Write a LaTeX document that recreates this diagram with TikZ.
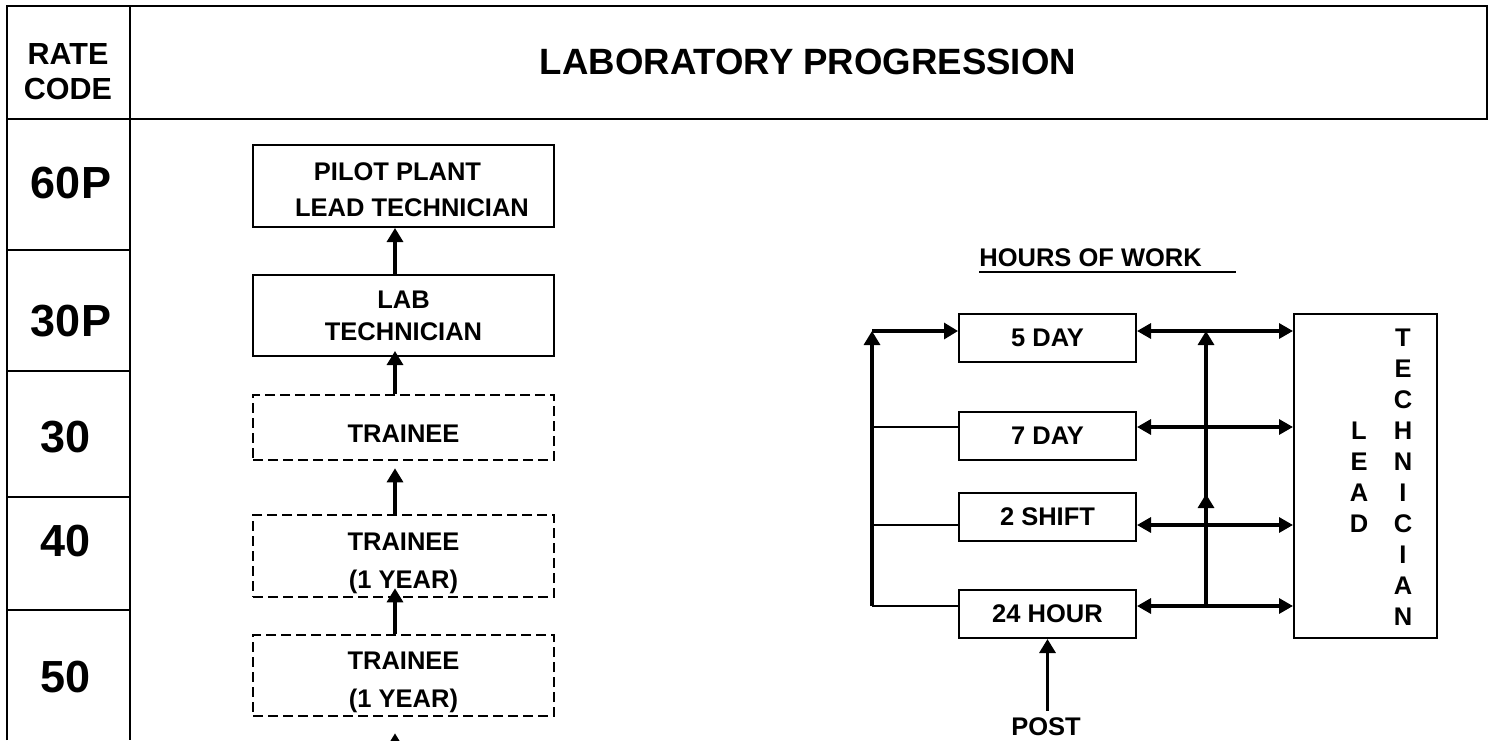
\documentclass[tikz,border=0pt]{standalone}
\usepackage{fontspec}
\setmainfont{Liberation Sans}
\usetikzlibrary{arrows.meta,calc}

\tikzset{
  tabline/.style={line width=1.1pt},
  box/.style={draw, line width=1pt, minimum width=150.5pt, inner sep=0pt, align=center,
    font=\fontsize{12.75}{18}\selectfont\bfseries},
  dbox/.style={box, line width=1.3pt, dash pattern=on 5pt off 2.5pt},
  hbox/.style={box, minimum width=88.5pt, minimum height=24pt},
  arr/.style={line width=1.6pt, -{Triangle[width=8pt,length=7pt]}},
  darr/.style={line width=1.6pt, {Triangle[width=7.5pt,length=7pt]}-{Triangle[width=7.5pt,length=7pt]}},
  link/.style={line width=1pt},
  rate/.style={font=\fontsize{22.5}{27}\selectfont\bfseries},
  letters/.style={align=center, inner sep=0pt, font=\fontsize{12.75}{15.5}\selectfont\bfseries},
}

\begin{document}
\begin{tikzpicture}[x=0.5pt, y=-0.5pt]
  \useasboundingbox (0,0) rectangle (1489,740);

  % table frame and rate codes
  \draw[tabline] (7,740) -- (7,6) -- (1487,6) -- (1487,119) -- (7,119);
  \draw[tabline] (130,6) -- (130,740);
  \foreach \y in {250,371,497,610}
    \draw[tabline] (7,\y) -- (130,\y);
  \node[align=center, font=\fontsize{15.25}{17.5}\selectfont\bfseries] (rc) at (68,71.5) {RATE\\CODE};
  \node[font=\fontsize{18.3}{22}\selectfont\bfseries] (title) at (808,62) {LABORATORY PROGRESSION};
  \node[rate] (c60p) at (71,183.5) {60P};
  \node[rate] (c30p) at (71,321) {30P};
  \node[rate] (c30) at (66,437) {30};
  \node[rate] (c40) at (66,541) {40};
  \node[rate] (c50) at (66,677) {50};

  % progression
  \coordinate (ax) at (395,0);
  \coordinate (low) at (395,770);
  \node[box, minimum height=41pt] (pp) at (403.5,186) {\rule{0pt}{13pt}PILOT PLANT\hspace*{6pt}\\\hspace*{8.5pt}LEAD TECHNICIAN};
  \node[box, minimum height=40.5pt, font=\fontsize{12.75}{16}\selectfont\bfseries] (lab) at (403.5,315.5) {LAB\\TECHNICIAN};
  \node[dbox, minimum height=32.5pt] (tr0) at (403.5,427.5) {\rule{0pt}{15pt}TRAINEE};
  \node[dbox, minimum height=41pt, font=\fontsize{12.75}{19}\selectfont\bfseries] (tr1) at (403.5,556) {\rule{0pt}{16pt}TRAINEE\\(1 YEAR)};
  \node[dbox, minimum height=40.5pt, font=\fontsize{12.75}{19}\selectfont\bfseries] (tr2) at (403.5,675.5) {\rule{0pt}{16pt}TRAINEE\\(1 YEAR)};
  \draw[arr] (lab.north -| ax) -- (pp.south -| ax);
  \draw[arr] (tr0.north -| ax) -- ($(lab.south -| ax)+(0,-6)$);
  \draw[arr] (tr1.north -| ax) -- ($(tr0.south -| ax)+(0,7)$);
  \draw[arr] (tr2.north -| ax) -- ($(tr1.south -| ax)+(0,-10)$);
  \draw[arr] (low) -- ($(tr2.south -| ax)+(0,16)$);

  % hours of work
  \node[anchor=base west, inner sep=0pt, font=\fontsize{12.75}{15}\selectfont\bfseries] (hw) at (979,266) {HOURS OF WORK};
  \draw[link] ([yshift=-3pt]hw.base west) -- ++(257,0);
  \node[hbox] (d5) at (1047.5,338) {5 DAY};
  \node[hbox] (d7) at (1047.5,436) {7 DAY};
  \node[hbox] (s2) at (1047.5,516.5) {2 SHIFT};
  \node[hbox] (h24) at (1047.5,614) {24 HOUR};
  \node[draw, line width=1pt, minimum width=71.5pt, minimum height=162pt] (lt) at (1365.5,476) {};
  \node[letters] (lead) at (1359,477.5) {L\\E\\A\\D};
  \node[letters] (tech) at (1403,477.5) {T\\E\\C\\H\\N\\I\\C\\I\\A\\N};
  \node[font=\fontsize{12.75}{15}\selectfont\bfseries] (post) at (1046,727) {POST};

  \coordinate (lx) at (872,0);
  \coordinate (rx) at (1206,0);
  \coordinate (r5) at (0,331);
  \coordinate (r7) at (0,427);
  \coordinate (r2) at (0,525);
  \coordinate (r24) at (0,606);
  \draw[arr] (lx |- r24) -- (lx |- r5);
  \draw[arr] (lx |- r5) -- (d5.west |- r5);
  \draw[link] (lx |- r7) -- (d7.west |- r7);
  \draw[link] (lx |- r2) -- (s2.west |- r2);
  \draw[link] (lx |- r24) -- (h24.west |- r24);
  \foreach \b/\r in {d5/r5, d7/r7, s2/r2, h24/r24}
    \draw[darr] (\b.east |- \r) -- (lt.west |- \r);
  \draw[arr] (rx |- r24) -- (rx |- r5);
  \draw[arr] (rx |- r24) -- ($(rx |- r2)+(0,-31)$);
  \draw[arr] (post.north -| h24.south) -- (h24.south);
\end{tikzpicture}
\end{document}
